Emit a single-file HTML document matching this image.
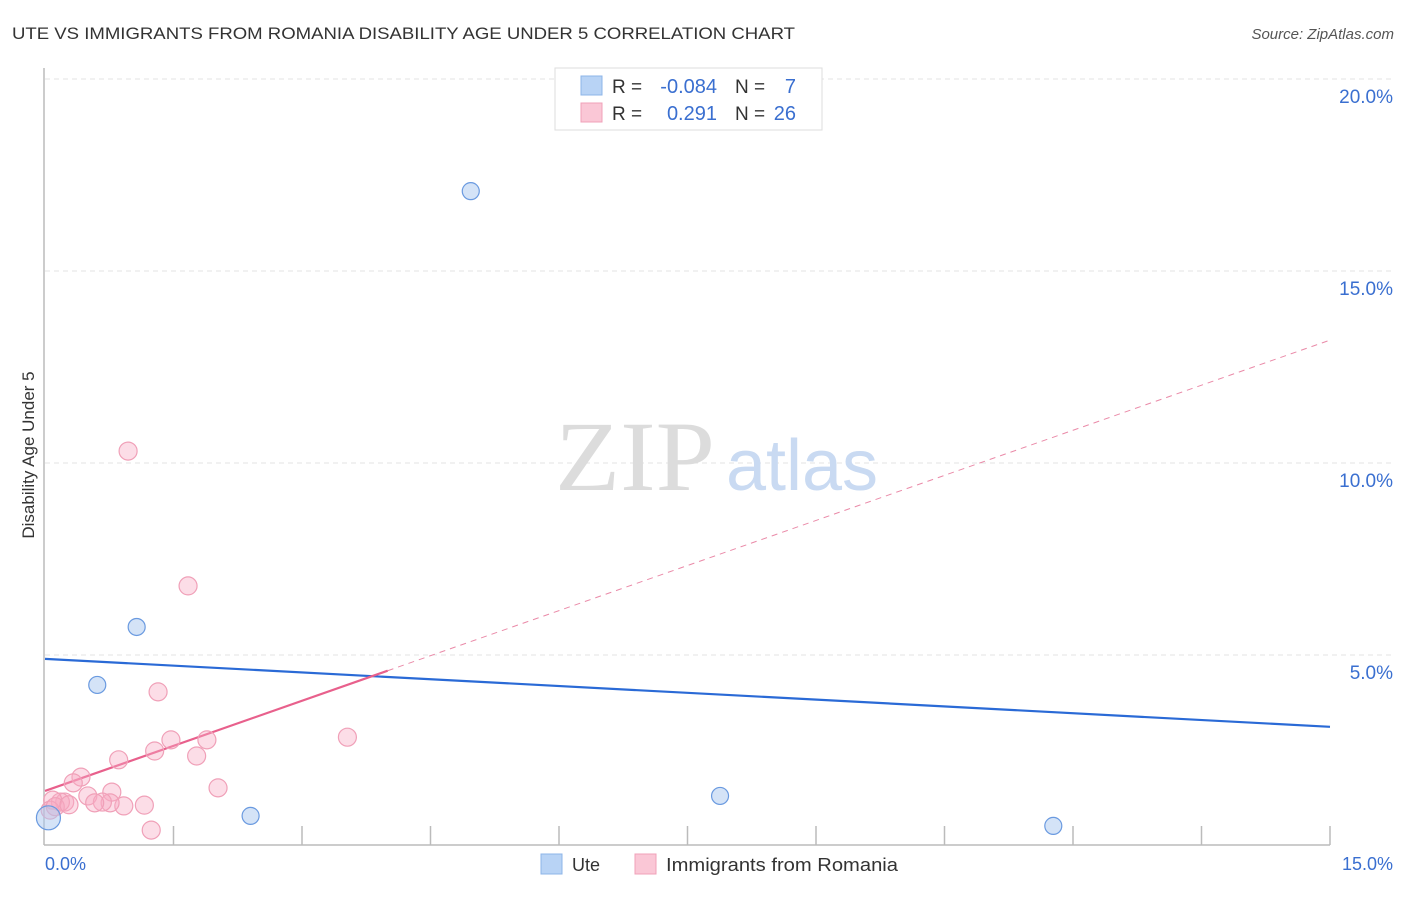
<!DOCTYPE html>
<html><head><meta charset="utf-8"><style>
body{margin:0;background:#fff;font-family:"Liberation Sans",sans-serif;}
</style></head><body>
<svg id="chart" width="1406" height="892" viewBox="0 0 1406 892" font-family="Liberation Sans, sans-serif">
<text x="12" y="39" font-size="17" fill="#333" textLength="783" lengthAdjust="spacingAndGlyphs">UTE VS IMMIGRANTS FROM ROMANIA DISABILITY AGE UNDER 5 CORRELATION CHART</text>
<text x="1394" y="39" font-size="15" fill="#555" font-style="italic" text-anchor="end">Source: ZipAtlas.com</text>
<g id="grid"></g>
<g>
<text x="635" y="490" font-size="100" fill="#dcdcdc" style="font-family:'Liberation Serif',serif" text-anchor="middle" textLength="160" lengthAdjust="spacingAndGlyphs">ZIP</text>
<text x="802" y="490" font-size="72" fill="#c9daf2" text-anchor="middle">atlas</text>
</g>
<line x1="44" y1="68" x2="44" y2="845" stroke="#bbb" stroke-width="1.5"/>
<line x1="44" y1="845" x2="1330" y2="845" stroke="#bbb" stroke-width="1.5"/>
<g id="xticks"></g>
<g id="ylabels"></g>
<text x="45" y="870" font-size="18" fill="#3a6fd0">0.0%</text>
<text x="1393" y="870" font-size="18" fill="#3a6fd0" text-anchor="end">15.0%</text>
<text transform="translate(34,455) rotate(-90)" font-size="17" fill="#333" text-anchor="middle">Disability Age Under 5</text>
<g id="lines"></g>
<g id="points"></g>
<g>
<rect x="555" y="68" width="267" height="62" fill="#fff" stroke="#ddd"/>
<rect x="581" y="76" width="21" height="19" fill="#b8d3f5" stroke="#8db4e8"/>
<rect x="581" y="103" width="21" height="19" fill="#fac7d6" stroke="#f0a0b8"/>
<text x="612" y="93" font-size="19" fill="#333">R =</text><text x="717" y="93" font-size="20" fill="#3a6fd0" text-anchor="end">-0.084</text>
<text x="735" y="93" font-size="19" fill="#333">N =</text><text x="796" y="93" font-size="20" fill="#3a6fd0" text-anchor="end">7</text>
<text x="612" y="120" font-size="19" fill="#333">R =</text><text x="717" y="120" font-size="20" fill="#3a6fd0" text-anchor="end">0.291</text>
<text x="735" y="120" font-size="19" fill="#333">N =</text><text x="796" y="120" font-size="20" fill="#3a6fd0" text-anchor="end">26</text>
</g>
<g>
<rect x="541" y="854" width="21" height="20" fill="#b8d3f5" stroke="#8db4e8"/>
<text x="572" y="871" font-size="18" fill="#333">Ute</text>
<rect x="635" y="854" width="21" height="20" fill="#fac7d6" stroke="#f0a0b8"/>
<text x="666" y="871" font-size="18" fill="#333" textLength="232" lengthAdjust="spacingAndGlyphs">Immigrants from Romania</text>
</g>
</svg>
<script>
const yTicks=[5,10,15,20];
const xTicks=[1.5,3,4.5,6,7.5,9,10.5,12,13.5,15];
const uteX=[4.97,1.07,0.61,2.40,7.88,11.77,0.04];
const uteY=[17.08,5.73,4.22,0.81,1.33,0.55,0.76];
const romX=[0.97,1.67,1.32,3.53,1.47,1.89,1.28,1.77,0.86,2.02,0.42,0.33,0.78,0.50,1.24,1.16,0.92,0.76,0.67,0.58,0.23,0.18,0.09,0.06,0.12,0.28];
const romY=[10.31,6.80,4.04,2.86,2.79,2.79,2.50,2.37,2.27,1.54,1.82,1.67,1.43,1.33,0.44,1.09,1.07,1.15,1.17,1.15,1.17,1.17,1.22,0.96,1.05,1.10];
const uteLine=[4.90,3.13];
const romLine=[1.46,13.2];
const romSolidEnd=4.0;
const NS='http://www.w3.org/2000/svg';
const X=v=>45+v/15*1285, Y=v=>847-v*38.4;
function mk(t,a,p){const e=document.createElementNS(NS,t);for(const k in a)e.setAttribute(k,a[k]);document.getElementById(p).appendChild(e);return e;}
yTicks.forEach(v=>{
 const g=mk('line',{x1:45,x2:1393,y1:Y(v),y2:Y(v),stroke:'#e3e3e3','stroke-dasharray':'5,4'},'grid');
 
 
 const t=mk('text',{x:1393,y:Y(v)+24,'font-size':19,fill:'#3a6fd0','text-anchor':'end'},'ylabels');
 t.textContent=v.toFixed(1)+'%';
 
 
});
xTicks.forEach(v=>{
 const l=mk('line',{x1:X(v),x2:X(v),y1:826,y2:845,stroke:'#bbb','stroke-width':1.5},'xticks');
 
 
});
const lu=mk('line',{x1:X(0),y1:Y(uteLine[0]),x2:X(15),y2:Y(uteLine[1]),stroke:'#2a6ad6','stroke-width':2.2},'lines');


const ry=x=>romLine[0]+(romLine[1]-romLine[0])*x/15;
const lr=mk('line',{x1:X(0),y1:Y(ry(0)),x2:X(romSolidEnd),y2:Y(ry(romSolidEnd)),stroke:'#e8608c','stroke-width':2.2},'lines');


const ld=mk('line',{x1:X(romSolidEnd),y1:Y(ry(romSolidEnd)),x2:X(15),y2:Y(ry(15)),stroke:'#ea8aa8','stroke-width':1,'stroke-dasharray':'6,5'},'lines');


romX.forEach((x,i)=>{
 const c=mk('circle',{cx:X(x),cy:Y(romY[i]),r:9,fill:'rgba(248,170,195,0.4)',stroke:'#f0a0b8','stroke-width':1.2},'points');
 
 
});
uteX.forEach((x,i)=>{
 const c=mk('circle',{cx:X(x),cy:Y(uteY[i]),r:i==6?12:8.5,fill:'rgba(170,200,240,0.5)',stroke:'#6a9ae0','stroke-width':1.2},'points');
 
 
});
</script>
</body></html>
